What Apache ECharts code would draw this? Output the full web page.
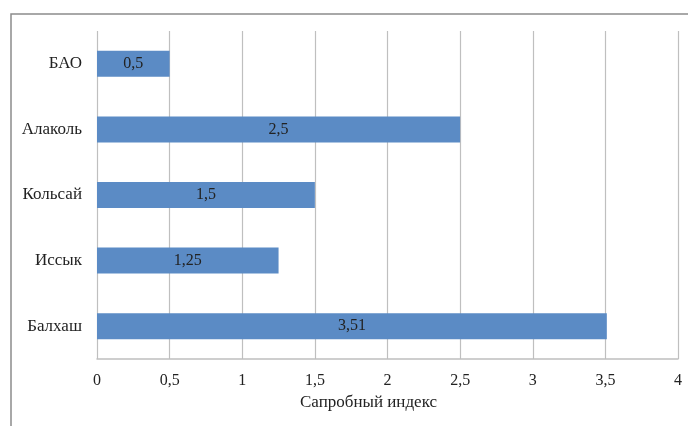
<!DOCTYPE html>
<html><head><meta charset="utf-8">
<script src="https://cdn.jsdelivr.net/npm/echarts@6/dist/echarts.min.js"></script>
<style>html,body{margin:0;padding:0;background:#fff}#c{width:688px;height:426px}</style>
</head><body><div id="c"></div>
<script>
const categories = ['Балхаш', 'Иссык', 'Кольсай', 'Алаколь', 'БАО'];
const values = [3.51, 1.25, 1.5, 2.5, 0.5];
const axisTitle = 'Сапробный индекс';
const fmt = v => String(v).replace('.', ',');
const font = '"Liberation Serif","Times New Roman",serif';
const chart = echarts.init(document.getElementById('c'));
chart.setOption({
  animation: false,
  backgroundColor: '#fff',
  graphic: [{
    type: 'rect', shape: {x: 11, y: 14, width: 800, height: 600},
    style: {fill: 'none', stroke: '#8c8c8c', lineWidth: 1.5}, silent: true, z: -1
  }],
  grid: {left: 97, right: 10, top: 31, bottom: 67},
  xAxis: {
    type: 'value', min: 0, max: 4, interval: 0.5,
    name: axisTitle, nameLocation: 'middle', nameGap: 35,
    nameTextStyle: {fontFamily: font, fontSize: 17, color: '#222', padding: [0, 38, 0, 0]},
    axisLine: {show: true, lineStyle: {color: '#bfbfbf', width: 1.5}},
    axisTick: {show: false},
    axisLabel: {formatter: fmt, fontFamily: font, fontSize: 16, color: '#222', margin: 14},
    splitLine: {show: true, lineStyle: {color: '#bfbfbf', width: 1.2}}
  },
  yAxis: {
    type: 'category', data: categories,
    axisLine: {show: false}, axisTick: {show: false},
    axisLabel: {fontFamily: font, fontSize: 17, color: '#222', margin: 15, padding: [3, 0, 0, 0]}
  },
  series: [{
    type: 'bar', data: values, barWidth: 26,
    itemStyle: {color: '#5b8bc5'},
    label: {show: true, position: 'inside', formatter: p => fmt(p.value),
      fontFamily: font, fontSize: 16, color: '#222', padding: [3, 0, 0, 0]}
  }]
});
</script></body></html>
